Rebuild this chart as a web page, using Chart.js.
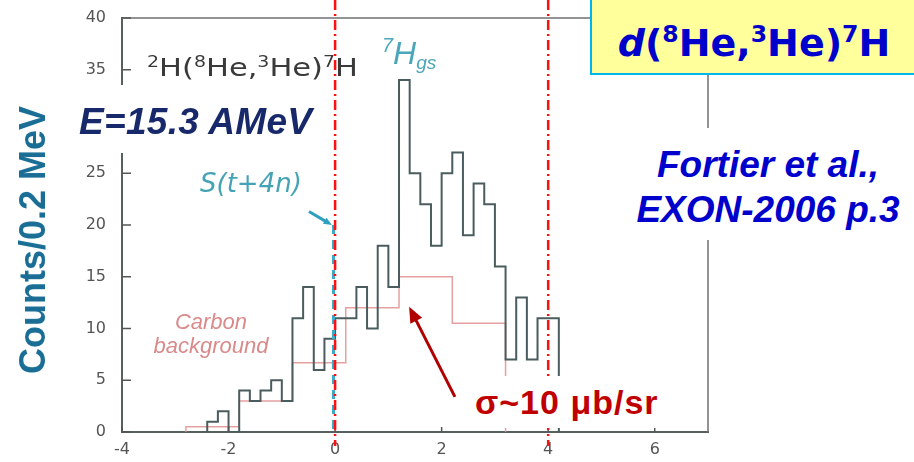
<!DOCTYPE html>
<html>
<head>
<meta charset="utf-8">
<script src="https://cdn.jsdelivr.net/npm/chart.js@4.4.1/dist/chart.umd.min.js"></script>
<style>
  body { margin: 0; background: #fff; }
  #wrap { position: relative; width: 914px; height: 462px; overflow: hidden; }
  #c { position: absolute; left: 0; top: 0; }
  .t { position: absolute; white-space: nowrap; line-height: 1; }
  .sp { font-size: .62em; position: relative; top: -.6em; }
  .box { position: absolute; background: #fff; }
</style>
</head>
<body>
<div id="wrap">
  <canvas id="c" width="914" height="462"></canvas>

  <!-- labels that belong to the original plot -->
  <div class="t" style="left:147px;top:53px;font:25px 'DejaVu Sans';color:#3a3a3a;transform:scaleX(1.22);transform-origin:left">
    <span class="sp">2</span>H(<span class="sp">8</span>He,<span class="sp">3</span>He)<span class="sp">7</span>H</div>
  <div class="t" style="left:382px;top:35px;font:italic 32px 'Liberation Sans';color:#4aa6b8">
    <span class="sp">7</span>H<span style="font-size:.6em;position:relative;top:.25em">gs</span></div>
  <div class="t" style="left:200px;top:168px;font:oblique 26px 'DejaVu Sans';color:#45a3b5">S(t+4n)</div>
  <div class="t" style="left:147px;top:310px;font:italic 22px 'Liberation Sans';color:#d98a8a;text-align:center;line-height:24px;width:128px">Carbon<br>background</div>

  <!-- slide overlays -->
  <div class="box" style="left:70px;top:85px;width:260px;height:68px"></div>
  <div class="t" style="left:79px;top:101px;font:italic bold 37px 'Liberation Sans';color:#17296b;letter-spacing:.3px">E=15.3 AMeV</div>

  <div class="t" style="left:33px;top:240px;font:bold 36px 'Liberation Sans';color:#1a6e96;transform:translate(-50%,-50%) rotate(-90deg)">Counts/0.2 MeV</div>

  <div class="box" style="left:590px;top:-2px;width:330px;height:73px;background:#ffff9c;border:2px solid #00b4ee"></div>
  <div class="t" style="left:592px;top:21px;width:324px;text-align:center;font:bold 38px 'DejaVu Sans';color:#0000cc">
    <i>d</i>(<span class="sp">8</span>He,<span class="sp">3</span>He)<span class="sp">7</span>H</div>

  <div class="box" style="left:620px;top:128px;width:294px;height:112px"></div>
  <div class="t" style="left:620px;top:142px;width:296px;text-align:center;font:italic bold 37px 'Liberation Sans';color:#0000cc;line-height:45px">Fortier et al.,<br>EXON-2006 p.3</div>

  <div class="box" style="left:462px;top:376px;width:238px;height:52px"></div>
  <div class="t" style="left:475px;top:383px;font:bold 34px 'Liberation Sans';color:#c00000;letter-spacing:1px">&sigma;~10 &mu;b/sr</div>
</div>

<script>
// histogram: left edge of each 0.2 MeV bin and its counts
var binLeft = [-2.4, -2.2, -2.0, -1.8, -1.6, -1.4, -1.2, -1.0, -0.8, -0.6, -0.4, -0.2,
               0.0, 0.2, 0.4, 0.6, 0.8, 1.0, 1.2, 1.4, 1.6, 1.8, 2.0, 2.2, 2.4, 2.6,
               2.8, 3.0, 3.2, 3.4, 3.6, 3.8, 4.0];
var counts = [1, 2, 0, 4, 3, 4, 5, 3, 11, 14, 6, 9,
              11, 11, 14, 10, 18, 14, 34, 25, 22, 18, 25, 27, 19, 24,
              22, 16, 7, 13, 7, 11, 11];
var binEnd = 4.2;

// carbon background, 1 MeV bins
var bgLeft = [-2.8, -1.8, -0.8, 0.2, 1.2, 2.2];
var bgCounts = [0.5, 3, 6.7, 12, 15, 10.5];
var bgEnd = 3.2;

var xTicks = [-4, -2, 0, 2, 4, 6];
var yTicks = [0, 5, 10, 15, 20, 25, 30, 35, 40];

var redLines = [0, 4];      // 7H gs and upper marker
var threshold = -0.03;      // S(t+4n)

// stepped points: value of bin i held from its left edge to the next edge
function steps(lefts, vals, end) {
  var pts = [{ x: lefts[0], y: 0 }];
  for (var i = 0; i < lefts.length; i++) {
    pts.push({ x: lefts[i], y: vals[i] });
  }
  pts.push({ x: end, y: vals[vals.length - 1] });
  pts.push({ x: end, y: 0 });
  return pts;
}

function arrow(ctx, x1, y1, x2, y2, color, w, head) {
  var ang = Math.atan2(y2 - y1, x2 - x1);
  ctx.strokeStyle = color; ctx.fillStyle = color; ctx.lineWidth = w;
  ctx.setLineDash([]);
  ctx.beginPath();
  ctx.moveTo(x1, y1);
  ctx.lineTo(x2 - Math.cos(ang) * head * 0.8, y2 - Math.sin(ang) * head * 0.8);
  ctx.stroke();
  ctx.beginPath();
  ctx.moveTo(x2, y2);
  ctx.lineTo(x2 - head * Math.cos(ang - 0.4), y2 - head * Math.sin(ang - 0.4));
  ctx.lineTo(x2 - head * Math.cos(ang + 0.4), y2 - head * Math.sin(ang + 0.4));
  ctx.closePath();
  ctx.fill();
}

var overlay = {
  id: 'overlay',
  afterDatasetsDraw: function (chart) {
    var ctx = chart.ctx, a = chart.chartArea, x = chart.scales.x, y = chart.scales.y;
    ctx.save();
    // top and right frame
    ctx.strokeStyle = '#707070'; ctx.lineWidth = 1.5;
    ctx.beginPath();
    ctx.moveTo(a.left, a.top); ctx.lineTo(a.right, a.top); ctx.lineTo(a.right, a.bottom);
    ctx.stroke();
    // inward ticks
    ctx.strokeStyle = '#555'; ctx.lineWidth = 1.5;
    yTicks.forEach(function (v) {
      var py = y.getPixelForValue(v);
      ctx.beginPath(); ctx.moveTo(a.left, py); ctx.lineTo(a.left + 9, py); ctx.stroke();
    });
    xTicks.forEach(function (v) {
      var px = x.getPixelForValue(v);
      ctx.beginPath(); ctx.moveTo(px, a.bottom); ctx.lineTo(px, a.bottom - 5); ctx.stroke();
    });
    // S(t+4n) threshold
    var tx = x.getPixelForValue(threshold);
    ctx.strokeStyle = '#3fa9c6'; ctx.lineWidth = 3;
    ctx.setLineDash([9, 6]);
    ctx.beginPath(); ctx.moveTo(tx, y.getPixelForValue(20)); ctx.lineTo(tx, a.bottom); ctx.stroke();
    // red dash-dot markers
    ctx.strokeStyle = '#ff1010'; ctx.lineWidth = 2.5;
    ctx.setLineDash([10, 4, 2, 4]);
    redLines.forEach(function (v) {
      var px = x.getPixelForValue(v);
      ctx.beginPath(); ctx.moveTo(px, 0); ctx.lineTo(px, a.bottom + 14); ctx.stroke();
    });
    // arrows
    arrow(ctx, x.getPixelForValue(-0.49), y.getPixelForValue(21.3),
               x.getPixelForValue(-0.06), y.getPixelForValue(20.0), '#2f9fc0', 3, 9);
    arrow(ctx, x.getPixelForValue(2.25), y.getPixelForValue(3.4),
               x.getPixelForValue(1.39), y.getPixelForValue(12.1), '#b00000', 3, 17);
    ctx.restore();
  }
};

var context = document.getElementById('c').getContext('2d');
var myChart = new Chart(context, {
  type: 'scatter',
  data: {
    datasets: [
      {
        label: 'Counts',
        data: steps(binLeft, counts, binEnd),
        showLine: true,
        stepped: 'before',
        borderColor: '#4a5c5e',
        borderWidth: 2,
        pointRadius: 0
      },
      {
        label: 'Carbon background',
        data: steps(bgLeft, bgCounts, bgEnd),
        showLine: true,
        stepped: 'before',
        borderColor: 'rgba(226,150,150,0.9)',
        borderWidth: 1.5,
        pointRadius: 0
      }
    ]
  },
  options: {
    responsive: false,
    animation: false,
    layout: { padding: { top: 18, right: 206, left: 0, bottom: 0 } },
    plugins: { legend: { display: false }, tooltip: { enabled: false } },
    scales: {
      x: {
        type: 'linear', min: -4, max: 7,
        afterBuildTicks: function (s) { s.ticks = xTicks.map(function (v) { return { value: v }; }); },
        afterFit: function (s) { s.height = 30; },
        grid: { display: false },
        border: { display: true, color: '#56605f', width: 2 },
        ticks: { padding: 0, color: '#555', font: { family: 'DejaVu Sans', size: 16 } }
      },
      y: {
        min: 0, max: 40,
        afterBuildTicks: function (s) { s.ticks = yTicks.map(function (v) { return { value: v }; }); },
        afterFit: function (s) { s.width = 122; },
        grid: { display: false },
        border: { display: true, color: '#56605f', width: 2 },
        ticks: { padding: 8, color: '#555', font: { family: 'DejaVu Sans', size: 16 } }
      }
    }
  },
  plugins: [overlay]
});
</script>
</body>
</html>
